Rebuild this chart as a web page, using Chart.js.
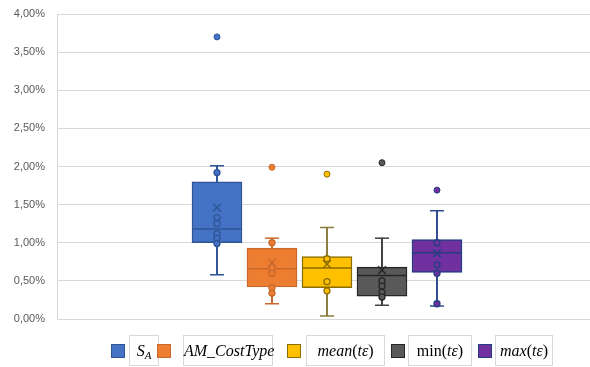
<!DOCTYPE html>
<html>
<head>
<meta charset="utf-8">
<script src="https://cdn.jsdelivr.net/npm/chart.js@4"></script>
<style>
  body { margin: 0; background: #fff; }
  #wrap { position: relative; width: 590px; height: 367px; }
  .sq { position: absolute; top: 344px; width: 12px; height: 12px; border: 1.5px solid; }
  .tb { position: absolute; top: 335px; height: 29px; border: 1px solid #d9d9d9; background: #fff;
        font-family: "Liberation Serif", serif; font-size: 16px; line-height: 29px; text-align: center;
        white-space: nowrap; color: #000; }
  .tb i { font-style: italic; }
  sub { font-size: 11px; vertical-align: -3px; line-height: 0; }
</style>
</head>
<body>
<div id="wrap">
  <canvas id="chart" width="590" height="367"></canvas>
</div>
<script>
// serie i statystyki pudełek (w %)
const series = ['S_A', 'AM_CostType', 'mean(tε)', 'min(tε)', 'max(tε)'];
const positions = [1, 2, 3, 4, 5];
const lowWhisker = [0.58, 0.20, 0.04, 0.18, 0.17];
const q1 = [1.00, 0.42, 0.41, 0.30, 0.61];
const median = [1.18, 0.66, 0.67, 0.57, 0.87];
const q3 = [1.80, 0.93, 0.82, 0.68, 1.04];
const highWhisker = [2.01, 1.06, 1.20, 1.06, 1.42];
const means = [1.46, 0.74, 0.72, 0.64, 0.86];
const innerPoints = [
  [1.92, 1.33, 1.25, 1.12, 1.06, 0.99],
  [1.00, 0.67, 0.60, 0.41, 0.34],
  [0.79, 0.49, 0.37],
  [0.50, 0.43, 0.35, 0.29],
  [1.00, 0.71, 0.60, 0.20]
];
const outliers = [[3.70], [1.99], [1.90], [2.05], [1.69]];
const yTicks = [0, 0.5, 1, 1.5, 2, 2.5, 3, 3.5, 4];

const fills = ['#4472C4', '#ED7D31', '#FFC000', '#595959', '#7030A0'];
const edges = ['#2F5597', '#C8692B', '#8C6D00', '#262626', '#223E80'];
const whiskerColors = ['#2F5597', '#C8692B', '#8C7A3C', '#404040', '#2E4A8B'];

// pomocnicze
const perSeries = (arr) => arr.map((v, i) => ({ x: positions[i], y: v, s: i }));
const flatPoints = (lists) => lists.flatMap((l, i) => l.map(v => ({ x: positions[i], y: v, s: i })));

const datasets = [
  {
    type: 'bar', label: 'whiskers', order: 9,
    data: positions.map((p, i) => ({ x: p, y: [lowWhisker[i], highWhisker[i]] })),
    backgroundColor: whiskerColors, barThickness: 1.3, grouped: false
  },
  {
    type: 'bar', label: 'boxes', order: 8,
    data: positions.map((p, i) => ({ x: p, y: [q1[i], q3[i]] })),
    backgroundColor: fills, borderColor: edges, borderWidth: 1.5,
    borderSkipped: false, barThickness: 50, grouped: false
  },
  {
    type: 'scatter', label: 'caps', order: 7,
    data: [...perSeries(lowWhisker), ...perSeries(highWhisker)],
    pointStyle: 'line', pointRadius: 7, pointBorderWidth: 1.5,
    pointBorderColor: c => whiskerColors[c.raw.s]
  },
  {
    type: 'scatter', label: 'median', order: 6,
    data: perSeries(median),
    pointStyle: 'line', pointRadius: 24.5, pointBorderWidth: 1.5,
    pointBorderColor: c => edges[c.raw.s]
  },
  {
    type: 'scatter', label: 'inner', order: 5,
    data: flatPoints(innerPoints),
    pointStyle: 'circle', pointRadius: 3, pointBorderWidth: 1.3,
    pointBackgroundColor: c => fills[c.raw.s],
    pointBorderColor: c => edges[c.raw.s]
  },
  {
    type: 'scatter', label: 'mean', order: 4,
    data: perSeries(means),
    pointStyle: 'crossRot', pointRadius: 5.5, pointBorderWidth: 1.5,
    pointBorderColor: c => edges[c.raw.s]
  },
  {
    type: 'scatter', label: 'outliers', order: 3,
    data: flatPoints(outliers),
    pointStyle: 'circle', pointRadius: 3, pointBorderWidth: 1,
    pointBackgroundColor: c => fills[c.raw.s],
    pointBorderColor: c => edges[c.raw.s]
  }
];

new Chart(document.getElementById('chart'), {
  type: 'bar',
  data: { datasets },
  options: {
    responsive: false,
    animation: false,
    layout: { autoPadding: false, padding: { left: 13, right: 0, top: 14, bottom: 48 } },
    plugins: { legend: { display: false }, tooltip: { enabled: false } },
    scales: {
      x: { type: 'linear', display: false, offset: false, min: -1.909, max: 7.782 },
      y: {
        min: 0, max: 4,
        afterBuildTicks: s => { s.ticks = yTicks.map(v => ({ value: v })); },
        afterFit: s => { s.width = 44; s.paddingTop = 0; s.paddingBottom = 0; },
        grid: { color: '#d9d9d9', lineWidth: 1, drawTicks: false },
        border: { display: true, color: '#d9d9d9', width: 1 },
        ticks: {
          padding: 12, color: '#595959',
          font: { family: 'Liberation Sans', size: 11 },
          callback: v => v.toFixed(2).replace('.', ',') + '%'
        }
      }
    }
  }
});

// legenda w ramkach jak w oryginale
const legendItems = [
  { sq: 111, box: 129, w: 28, html: '<i>S<sub>A</sub></i>' },
  { sq: 157, box: 183, w: 88, html: '<i>AM_CostType</i>' },
  { sq: 287, box: 306, w: 77, html: '<i>mean</i>(<i>tε</i>)' },
  { sq: 391, box: 408, w: 62, html: 'min(<i>tε</i>)' },
  { sq: 478, box: 495, w: 56, html: '<i>max</i>(<i>tε</i>)' }
];
const wrap = document.getElementById('wrap');
legendItems.forEach((it, i) => {
  const sq = document.createElement('div');
  sq.className = 'sq';
  sq.style.left = it.sq + 'px';
  sq.style.background = fills[i];
  sq.style.borderColor = edges[i];
  wrap.appendChild(sq);
  const tb = document.createElement('div');
  tb.className = 'tb';
  tb.style.left = it.box + 'px';
  tb.style.width = it.w + 'px';
  tb.innerHTML = it.html;
  tb.title = series[i];
  wrap.appendChild(tb);
});
</script>
</body>
</html>
